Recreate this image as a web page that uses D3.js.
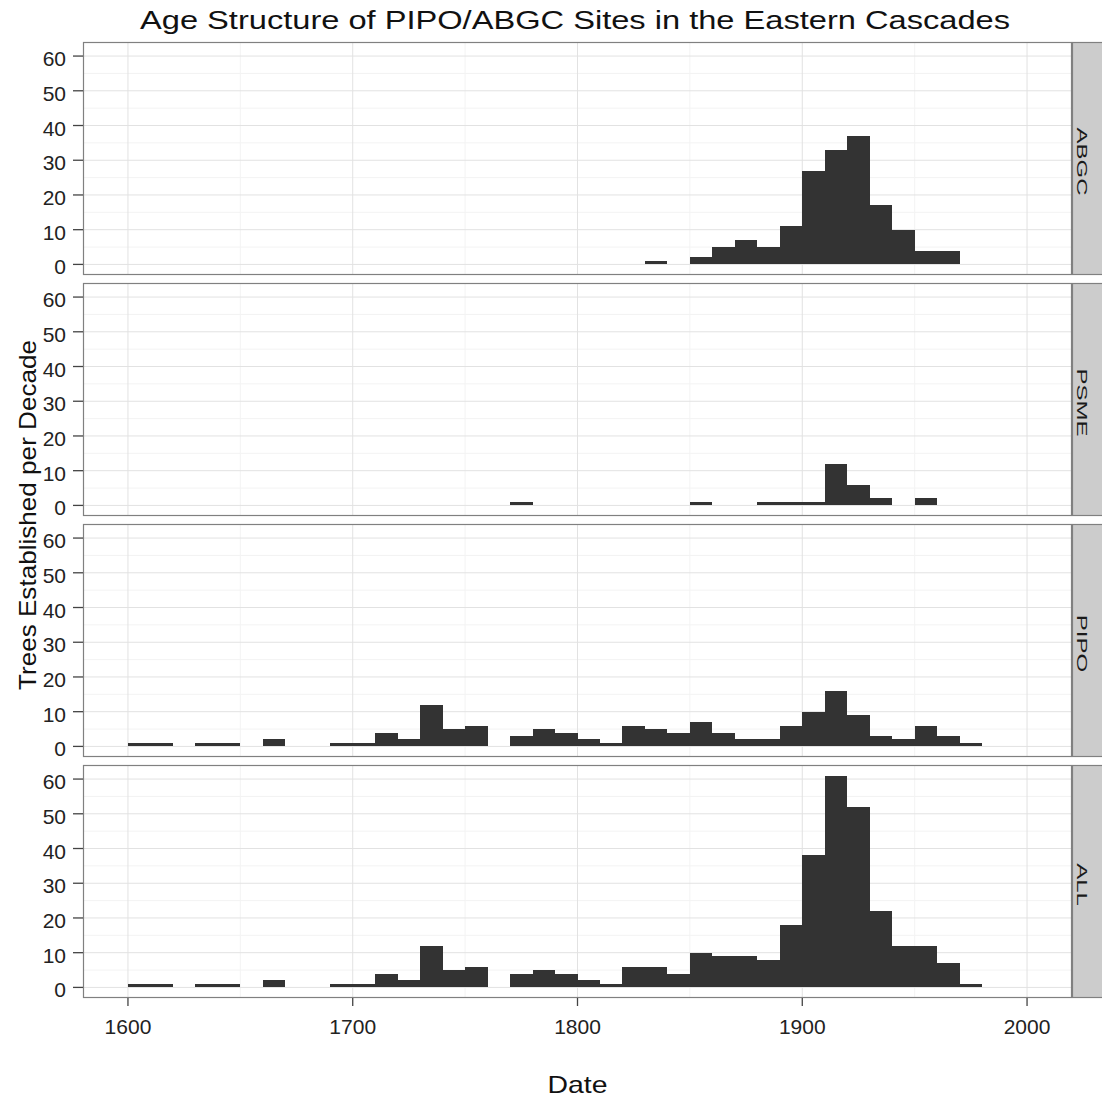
<!DOCTYPE html>
<html>
<head>
<meta charset="utf-8">
<script src="https://cdn.jsdelivr.net/npm/d3@7"></script>
<style>
  html, body { margin: 0; padding: 0; background: #ffffff; }
  svg { display: block; font-family: "Liberation Sans", Arial, sans-serif; }
</style>
</head>
<body>
<svg id="chart" width="1102" height="1101"></svg>
<script>
// Decade bins (start year of each 10-year bin)
const binStarts = [1600, 1610, 1620, 1630, 1640, 1650, 1660, 1670, 1680, 1690,
                   1700, 1710, 1720, 1730, 1740, 1750, 1760, 1770, 1780, 1790,
                   1800, 1810, 1820, 1830, 1840, 1850, 1860, 1870, 1880, 1890,
                   1900, 1910, 1920, 1930, 1940, 1950, 1960, 1970];
const binWidth = 10;

// Trees established per decade, by species group
const abgcCounts = [0, 0, 0, 0, 0, 0, 0, 0, 0, 0,
                    0, 0, 0, 0, 0, 0, 0, 0, 0, 0,
                    0, 0, 0, 1, 0, 2, 5, 7, 5, 11,
                    27, 33, 37, 17, 10, 4, 4, 0];
const psmeCounts = [0, 0, 0, 0, 0, 0, 0, 0, 0, 0,
                    0, 0, 0, 0, 0, 0, 0, 1, 0, 0,
                    0, 0, 0, 0, 0, 1, 0, 0, 1, 1,
                    1, 12, 6, 2, 0, 2, 0, 0];
const pipoCounts = [1, 1, 0, 1, 1, 0, 2, 0, 0, 1,
                    1, 4, 2, 12, 5, 6, 0, 3, 5, 4,
                    2, 1, 6, 5, 4, 7, 4, 2, 2, 6,
                    10, 16, 9, 3, 2, 6, 3, 1];
const allCounts  = [1, 1, 0, 1, 1, 0, 2, 0, 0, 1,
                    1, 4, 2, 12, 5, 6, 0, 4, 5, 4,
                    2, 1, 6, 6, 4, 10, 9, 9, 8, 18,
                    38, 61, 52, 22, 12, 12, 7, 1];

const facetNames = ["ABGC", "PSME", "PIPO", "ALL"];
const facetCounts = [abgcCounts, psmeCounts, pipoCounts, allCounts];

const xTicks = [1600, 1700, 1800, 1900, 2000];
const xMinorTicks = [1650, 1750, 1850, 1950];
const yTicks = [0, 10, 20, 30, 40, 50, 60];
const yMinorTicks = [5, 15, 25, 35, 45, 55];

const titleText = "Age Structure of PIPO/ABGC Sites in the Eastern Cascades";
const xTitle = "Date";
const yTitle = "Trees Established per Decade";

// Layout
const panelLeft = 83, panelRight = 1072;
const panelsTop = 42, panelsBottom = 998, panelGap = 8;
const panelH = (panelsBottom - panelsTop - panelGap * (facetNames.length - 1)) / facetNames.length;
const stripW = 32;

const svg = d3.select("#chart");

const x = d3.scaleLinear().domain([1580, 2020]).range([panelLeft, panelRight]);
const yMax = d3.max(allCounts);
const yPad = yMax * 0.05;

facetNames.forEach((name, i) => {
  const top = panelsTop + i * (panelH + panelGap);
  const bottom = top + panelH;
  const y = d3.scaleLinear().domain([-yPad, yMax + yPad]).range([bottom, top]);
  const g = svg.append("g");

  // panel background
  g.append("rect").attr("x", panelLeft).attr("y", top)
    .attr("width", panelRight - panelLeft).attr("height", panelH)
    .attr("fill", "#ffffff");

  // minor grid
  g.selectAll(null).data(yMinorTicks).join("line")
    .attr("x1", panelLeft).attr("x2", panelRight)
    .attr("y1", d => y(d)).attr("y2", d => y(d))
    .attr("stroke", "#f3f3f3").attr("stroke-width", 1);
  g.selectAll(null).data(xMinorTicks).join("line")
    .attr("x1", d => x(d)).attr("x2", d => x(d))
    .attr("y1", top).attr("y2", bottom)
    .attr("stroke", "#f3f3f3").attr("stroke-width", 1);

  // major grid
  g.selectAll(null).data(yTicks).join("line")
    .attr("x1", panelLeft).attr("x2", panelRight)
    .attr("y1", d => y(d)).attr("y2", d => y(d))
    .attr("stroke", "#e2e2e2").attr("stroke-width", 1);
  g.selectAll(null).data(xTicks).join("line")
    .attr("x1", d => x(d)).attr("x2", d => x(d))
    .attr("y1", top).attr("y2", bottom)
    .attr("stroke", "#e2e2e2").attr("stroke-width", 1);

  // histogram bars
  const counts = facetCounts[i];
  const bars = binStarts.map((b, k) => ({ start: b, count: counts[k] })).filter(d => d.count > 0);
  g.selectAll(null).data(bars).join("rect")
    .attr("x", d => x(d.start))
    .attr("width", d => x(d.start + binWidth) - x(d.start))
    .attr("y", d => y(d.count))
    .attr("height", d => y(0) - y(d.count))
    .attr("fill", "#333333")
    .attr("shape-rendering", "crispEdges");

  // panel border
  g.append("rect").attr("x", panelLeft + 0.5).attr("y", top + 0.5)
    .attr("width", panelRight - panelLeft - 1).attr("height", panelH - 1)
    .attr("fill", "none").attr("stroke", "#808080").attr("stroke-width", 1.2);

  // y axis ticks and labels
  g.selectAll(null).data(yTicks).join("line")
    .attr("x1", panelLeft - 10).attr("x2", panelLeft)
    .attr("y1", d => y(d)).attr("y2", d => y(d))
    .attr("stroke", "#444").attr("stroke-width", 1.3);
  g.selectAll(null).data(yTicks).join("text")
    .attr("x", panelLeft - 17).attr("y", d => y(d) + 10)
    .attr("text-anchor", "end")
    .attr("font-size", 21).attr("fill", "#222")
    .text(d => d);

  // strip with the facet name, reading top to bottom
  g.append("rect").attr("x", panelRight + 0.5).attr("y", top + 0.5)
    .attr("width", stripW).attr("height", panelH - 1)
    .attr("fill", "#cccccc").attr("stroke", "#808080").attr("stroke-width", 1.2);
  const cy = (top + bottom) / 2 + 3;
  g.append("text")
    .attr("transform", `translate(${panelRight + 5},${cy}) rotate(90) scale(1.6,1)`)
    .attr("text-anchor", "middle")
    .attr("font-size", 15).attr("fill", "#1a1a1a")
    .text(name);

  // x axis on the bottom panel
  if (i === facetNames.length - 1) {
    g.selectAll(null).data(xTicks).join("line")
      .attr("x1", d => x(d)).attr("x2", d => x(d))
      .attr("y1", bottom).attr("y2", bottom + 8)
      .attr("stroke", "#444").attr("stroke-width", 1.3);
    g.selectAll(null).data(xTicks).join("text")
      .attr("x", d => x(d)).attr("y", bottom + 36)
      .attr("text-anchor", "middle")
      .attr("font-size", 21).attr("fill", "#222")
      .text(d => d);
  }
});

// titles
svg.append("text")
  .attr("x", 140).attr("y", 29)
  .attr("font-size", 25).attr("fill", "#111")
  .attr("textLength", 870).attr("lengthAdjust", "spacingAndGlyphs")
  .text(titleText);

svg.append("text")
  .attr("x", (panelLeft + panelRight) / 2).attr("y", 1093)
  .attr("text-anchor", "middle")
  .attr("font-size", 24).attr("fill", "#111")
  .attr("textLength", 60).attr("lengthAdjust", "spacingAndGlyphs")
  .text(xTitle);

svg.append("text")
  .attr("transform", `translate(36,${(panelsTop + panelsBottom) / 2 - 5}) rotate(-90)`)
  .attr("text-anchor", "middle")
  .attr("font-size", 24).attr("fill", "#111")
  .attr("textLength", 350).attr("lengthAdjust", "spacingAndGlyphs")
  .text(yTitle);
</script>
</body>
</html>
